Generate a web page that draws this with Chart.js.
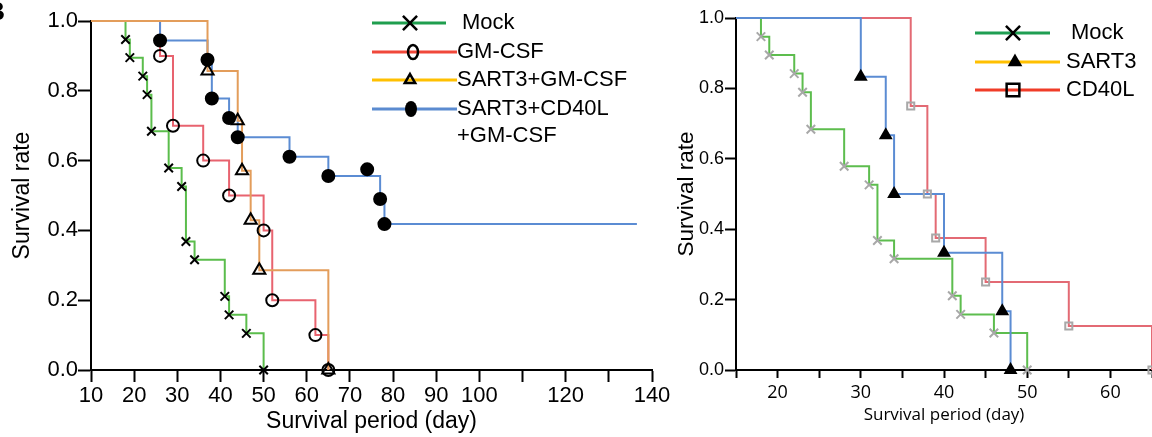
<!DOCTYPE html>
<html>
<head>
<meta charset="utf-8">
<script src="https://cdn.jsdelivr.net/npm/chart.js@4.4.0/dist/chart.umd.min.js"></script>
<style>
  html, body { margin: 0; padding: 0; background: #fff; }
  #wrap { position: relative; width: 1152px; height: 437px; overflow: hidden; }
  #left { position: absolute; left: 0; top: 0; }
  #right { position: absolute; left: 660px; top: 0; }
</style>
</head>
<body>
<div id="wrap">
  <canvas id="left" width="690" height="437"></canvas>
  <canvas id="right" width="492" height="437"></canvas>
</div>
<script>
// survival data (day of event, survival after it)
const mockDays = [18, 19, 22, 23, 24, 28, 31, 32, 34, 41, 42, 46, 50];
const mockSurv = [0.947, 0.895, 0.842, 0.789, 0.684, 0.579, 0.526, 0.368, 0.316, 0.211, 0.158, 0.105, 0];

const gmDays = [26, 29, 36, 42, 50, 52, 62, 65];
const gmSurv = [0.9, 0.7, 0.6, 0.5, 0.4, 0.2, 0.1, 0];

const sartGmDays = [37, 44, 45, 47, 49, 65];
const sartGmSurv = [0.857, 0.714, 0.571, 0.429, 0.286, 0];

const sartCdGmDays = [26, 37, 38, 42, 44, 56, 65, 77, 78];
const sartCdGmSurv = [0.944, 0.889, 0.778, 0.722, 0.667, 0.611, 0.556, 0.49, 0.418];
const sartCdGmCensorDays = [74];
const sartCdGmCensorSurv = [0.575];
const sartCdGmEnd = 136.5;

const sart3Days = [30, 33, 34, 40, 47, 48];
const sart3Surv = [0.833, 0.667, 0.5, 0.333, 0.167, 0];

const cd40lDays = [36, 38, 39, 45, 55, 65];
const cd40lSurv = [0.75, 0.5, 0.375, 0.25, 0.125, 0];

const leftNames = ['Mock', 'GM-CSF', 'SART3+GM-CSF', 'SART3+CD40L\n+GM-CSF'];
const rightNames = ['Mock', 'SART3', 'CD40L'];

const leftXTicks = [10, 20, 30, 40, 50, 60, 70, 80, 90, 100, 120, 140];
const rightXTicks = [20, 30, 40, 50, 60];

const ARIAL = '"Liberation Sans", Arial, sans-serif';

function curve(start, days, surv, end) {
  let pts = [{ x: start, y: 1 }];
  for (let i = 0; i < days.length; i++) {
    pts.push({ x: days[i], y: surv[i] });
  }
  if (end) pts.push({ x: end, y: surv[surv.length - 1] });
  return pts;
}

function marks(days, surv) {
  return days.map((d, i) => ({ x: d, y: surv[i] }));
}

function stepLine(data, color, order) {
  return {
    type: 'line', data: data, borderColor: color, borderWidth: 2,
    stepped: 'before', pointRadius: 0, fill: false, clip: false, order: order
  };
}

function markerSet(data, style, radius, border, bg) {
  return {
    type: 'line', data: data, showLine: false, pointStyle: style,
    pointRadius: radius, pointBorderWidth: 2, pointBorderColor: border,
    pointBackgroundColor: bg, clip: false, order: 0
  };
}

// legend drawn by hand: short line with the marker on top, then the name
function legendPlugin(items, font, extra) {
  return {
    id: 'kmLegend',
    afterDraw(chart) {
      const ctx = chart.ctx;
      ctx.save();
      items.forEach(it => {
        ctx.strokeStyle = it.color;
        ctx.lineWidth = 3;
        ctx.beginPath();
        ctx.moveTo(it.x0, it.y);
        ctx.lineTo(it.x1, it.y);
        ctx.stroke();

        ctx.strokeStyle = '#000';
        ctx.fillStyle = '#000';
        ctx.lineWidth = 2.5;
        if (it.marker === 'oval' || it.marker === 'dot') {
          ctx.beginPath();
          ctx.ellipse(it.mx, it.y, it.rx, it.ry, 0, 0, Math.PI * 2);
          if (it.marker === 'dot') ctx.fill(); else ctx.stroke();
        } else {
          ctx.fillStyle = it.fill ? '#000' : 'rgba(0,0,0,0)';
          Chart.helpers.drawPoint(ctx, { pointStyle: it.marker, radius: it.r, rotation: 0, borderWidth: 2.5 }, it.mx, it.y);
        }

        ctx.fillStyle = '#000';
        ctx.font = font;
        ctx.textAlign = 'left';
        ctx.textBaseline = 'middle';
        const lines = it.name.split('\n');
        lines.forEach((t, k) => ctx.fillText(t, it.tx, it.y + k * 27));
      });
      if (extra) extra(ctx);
      ctx.restore();
    }
  };
}

const leftLegend = legendPlugin([
  { name: leftNames[0], color: '#1f9e4e', x0: 372, x1: 446, y: 23, mx: 410, marker: 'crossRot', r: 10, tx: 462 },
  { name: leftNames[1], color: '#f0483a', x0: 372, x1: 457, y: 52, mx: 413, marker: 'oval', rx: 5, ry: 7, tx: 457 },
  { name: leftNames[2], color: '#ffc000', x0: 372, x1: 457, y: 80, mx: 410, marker: 'triangle', r: 6, tx: 457 },
  { name: leftNames[3], color: '#5b8bd0', x0: 372, x1: 457, y: 109, mx: 411, marker: 'dot', rx: 6, ry: 8, tx: 457 }
], '22px ' + ARIAL, ctx => {
  ctx.font = 'bold 26px ' + ARIAL;
  ctx.textAlign = 'right';
  ctx.textBaseline = 'middle';
  ctx.fillText('B', 5, 13);
});

const rightLegend = legendPlugin([
  { name: rightNames[0], color: '#1f9e52', x0: 315, x1: 390, y: 33, mx: 353, marker: 'crossRot', r: 10, tx: 411 },
  { name: rightNames[1], color: '#ffc000', x0: 315, x1: 400, y: 62, mx: 355, marker: 'triangle', r: 6, fill: true, tx: 406 },
  { name: rightNames[2], color: '#f03c28', x0: 315, x1: 400, y: 90, mx: 353, marker: 'rect', r: 9, tx: 406 }
], '22px ' + ARIAL);

function axisX(min, max, step, shown, tickLen, pad, font, title, titleFont, titlePad) {
  return {
    type: 'linear', min: min, max: max,
    grid: { drawOnChartArea: false, drawTicks: true, tickLength: tickLen, tickWidth: 2, tickColor: '#000' },
    border: { display: true, color: '#000', width: 2 },
    ticks: {
      stepSize: step, autoSkip: false, maxRotation: 0, padding: pad, color: '#000', font: font,
      callback: v => shown.includes(v) ? String(v) : ''
    },
    title: { display: true, text: title, color: '#000', font: titleFont, padding: { top: 0, bottom: titlePad } },
    afterFit: s => { s.height = 67; s.paddingLeft = 0; s.paddingRight = 0; }
  };
}

function axisY(width, tickLen, pad, font, titleFont, titlePad) {
  return {
    type: 'linear', min: 0, max: 1,
    grid: { drawOnChartArea: false, drawTicks: true, tickLength: tickLen, tickWidth: 2, tickColor: '#000' },
    border: { display: true, color: '#000', width: 2 },
    ticks: { stepSize: 0.2, padding: pad, color: '#000', font: font, callback: v => Number(v).toFixed(1) },
    title: { display: true, text: 'Survival rate', color: '#000', font: titleFont, padding: { top: titlePad, bottom: 0 } },
    afterFit: s => { s.width = width; s.paddingTop = 0; s.paddingBottom = 0; }
  };
}

new Chart(document.getElementById('left'), {
  type: 'line',
  data: {
    datasets: [
      markerSet(marks(mockDays, mockSurv), 'crossRot', 6, '#000', '#000'),
      markerSet(marks(gmDays, gmSurv), 'circle', 6, '#000', 'rgba(0,0,0,0)'),
      markerSet(marks(sartGmDays, sartGmSurv), 'triangle', 7, '#000', 'rgba(0,0,0,0)'),
      markerSet(marks(sartCdGmDays, sartCdGmSurv).concat(marks(sartCdGmCensorDays, sartCdGmCensorSurv)), 'circle', 6, '#000', '#000'),
      stepLine(curve(10, sartGmDays, sartGmSurv), '#e39d5b', 1),
      stepLine(curve(10, sartCdGmDays, sartCdGmSurv, sartCdGmEnd), '#5b8cd3', 2),
      stepLine(curve(10, gmDays, gmSurv), '#e8636f', 3),
      stepLine(curve(10, mockDays, mockSurv), '#5bbd4c', 4)
    ]
  },
  options: {
    responsive: false,
    animation: false,
    devicePixelRatio: 1,
    events: [],
    layout: { autoPadding: false, padding: { left: 0, right: 38, top: 21, bottom: 0 } },
    plugins: { legend: { display: false }, tooltip: { enabled: false } },
    scales: {
      x: axisX(10, 140, 10, leftXTicks, 12, 1, { family: ARIAL, size: 22 },
        'Survival period (day)', { family: ARIAL, size: 23 }, 2),
      y: axisY(91, 13, 0, { family: ARIAL, size: 22 }, { family: ARIAL, size: 23 }, 9)
    }
  },
  plugins: [leftLegend]
});

new Chart(document.getElementById('right'), {
  type: 'line',
  data: {
    datasets: [
      markerSet(marks(mockDays, mockSurv), 'crossRot', 6, '#a8a8a8', '#a8a8a8'),
      markerSet(marks(sart3Days, sart3Surv), 'triangle', 6, '#000', '#000'),
      markerSet(marks(cd40lDays, cd40lSurv), 'rect', 5, '#a8a8a8', 'rgba(0,0,0,0)'),
      stepLine(curve(15, sart3Days, sart3Surv), '#5b8cd3', 1),
      stepLine(curve(15, cd40lDays, cd40lSurv), '#e36a74', 2),
      stepLine(curve(15, mockDays, mockSurv), '#5dbd4e', 3)
    ]
  },
  options: {
    responsive: false,
    animation: false,
    devicePixelRatio: 1,
    events: [],
    layout: { autoPadding: false, padding: { left: 0, right: 0, top: 18, bottom: 0 } },
    plugins: { legend: { display: false }, tooltip: { enabled: false } },
    scales: {
      x: axisX(15, 65, 5, rightXTicks, 8, 4, { family: '"Open Sans", sans-serif', size: 18 },
        'Survival period (day)', { family: '"Open Sans", sans-serif', size: 17 }, 12),
      y: axisY(76, 11, 1, { family: ARIAL, size: 18 }, { family: ARIAL, size: 22.5 }, 13.5)
    }
  },
  plugins: [rightLegend]
});
</script>
</body>
</html>
